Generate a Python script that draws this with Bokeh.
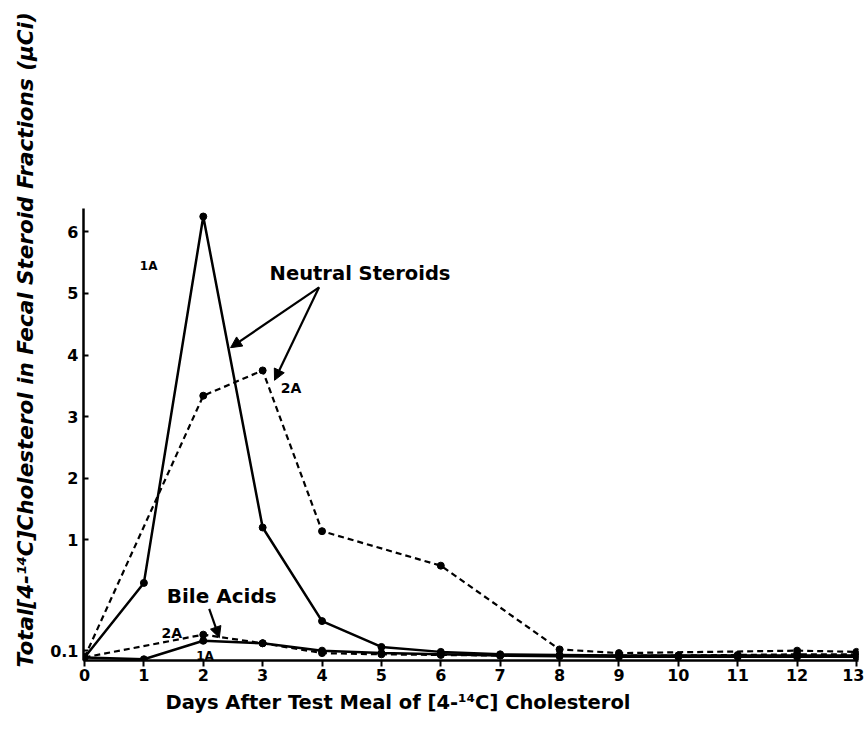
import math
from bokeh.plotting import figure
from bokeh.models import (ColumnDataSource, FixedTicker, CustomJSTickFormatter, Label,
                          Arrow, NormalHead, Range1d, CustomJSTransform, Title)
from bokeh.transform import transform
from bokeh.embed import file_html
from bokeh.resources import INLINE

# ---------------- data (µCi per day) ----------------
days = list(range(14))
neutral_1a = [0.045, 0.65, 6.25, 1.2, 0.34, 0.13, 0.09, 0.07, 0.065, 0.06, 0.06, 0.06, 0.06, 0.06]
neutral_2a_days = [0, 2, 3, 4, 6, 8, 9, 12, 13]
neutral_2a = [0.045, 3.34, 3.75, 1.14, 0.79, 0.11, 0.08, 0.10, 0.09]
bile_1a = [0.045, 0.03, 0.18, 0.16, 0.10, 0.08, 0.07, 0.06, 0.055, 0.05, 0.05, 0.05, 0.05, 0.05]
bile_2a_days = [0, 2, 3, 4, 5, 6, 7, 8, 9, 10, 11, 12, 13]
bile_2a = [0.045, 0.23, 0.16, 0.08, 0.07, 0.065, 0.06, 0.06, 0.06, 0.06, 0.065, 0.07, 0.07]

x_ticks = list(range(14))
y_tick_values = [0.1, 1, 2, 3, 4, 5, 6]

FONT = "DejaVu Sans"


def brk(v):
    # broken axis: 0-1 drawn at double scale, above 1 at unit scale
    return 2 * v if v <= 1 else v + 1


brk_js = CustomJSTransform(v_func="return xs.map(v => v <= 1 ? 2*v : v + 1)")

p = figure(width=864, height=730, x_range=Range1d(-0.017, 13.034), y_range=Range1d(0.04, 7.38),
           output_backend="svg", toolbar_location=None,
           min_border_left=83, min_border_right=6, min_border_top=208, min_border_bottom=70)
p.outline_line_color = None
p.xgrid.visible = False
p.ygrid.visible = False
p.background_fill_color = "white"

# axes
p.xaxis.ticker = FixedTicker(ticks=x_ticks)
p.yaxis.ticker = FixedTicker(ticks=[brk(v) for v in y_tick_values])
p.yaxis.formatter = CustomJSTickFormatter(code="""
const v = tick <= 2 ? tick / 2 : tick - 1;
return v < 1 ? v.toFixed(1) : v.toFixed(0);
""")
for ax in (p.xaxis, p.yaxis):
    ax.axis_line_width = 2.5
    ax.axis_line_color = "black"
    ax.major_tick_line_width = 2
    ax.major_tick_line_color = "black"
    ax.minor_tick_line_color = None
    ax.major_label_text_font = FONT
    ax.major_label_text_font_style = "bold"
    ax.major_label_text_font_size = "16px"
    ax.major_label_text_color = "black"
p.xaxis.major_tick_out = 6
p.xaxis.major_tick_in = 0
p.xaxis.major_label_standoff = 2
p.yaxis.major_tick_out = 0
p.yaxis.major_tick_in = 5
p.yaxis.major_label_standoff = 5

src_n1 = ColumnDataSource(dict(day=days, v=neutral_1a))
src_n2 = ColumnDataSource(dict(day=neutral_2a_days, v=neutral_2a))
src_b1 = ColumnDataSource(dict(day=days, v=bile_1a))
src_b2 = ColumnDataSource(dict(day=bile_2a_days, v=bile_2a))

yt = transform("v", brk_js)
p.line("day", yt, source=src_b1, line_color="black", line_width=2.5)
p.line("day", yt, source=src_n1, line_color="black", line_width=2.5)
p.line("day", yt, source=src_b2, line_color="black", line_width=2.2, line_dash="6 4")
p.line("day", yt, source=src_n2, line_color="black", line_width=2.2, line_dash="6 4")
for s in (src_b1, src_n1, src_b2, src_n2):
    p.scatter("day", yt, source=s, size=7, color="black")

# annotations
def lab(text, x, v, size, style="bold", angle=0.0):
    p.add_layout(Label(x=x, y=brk(v), text=text, text_font=FONT, text_font_style=style,
                       text_font_size=size, text_align="center", text_baseline="middle",
                       angle=angle, text_color="black"))

lab("1A", 1.08, 5.45, "12px")
lab("Neutral Steroids", 4.64, 5.32, "19.5px")
lab("2A", 3.48, 3.46, "14px")
lab("Bile Acids", 2.31, 0.54, "20px")
lab("2A", 1.47, 0.24, "14px")
lab("1A", 2.03, 0.06, "12px")

head = dict(size=11, fill_color="black", line_color="black")
p.add_layout(Arrow(end=NormalHead(**head), x_start=3.95, y_start=brk(5.10), x_end=2.46, y_end=brk(4.12),
                   line_width=2.2, line_color="black"))
p.add_layout(Arrow(end=NormalHead(**head), x_start=3.95, y_start=brk(5.10), x_end=3.20, y_end=brk(3.59),
                   line_width=2.2, line_color="black"))
p.add_layout(Arrow(end=NormalHead(**head), x_start=2.10, y_start=brk(0.44), x_end=2.27, y_end=brk(0.205),
                   line_width=2.2, line_color="black"))

# axis titles
p.add_layout(Title(text="Days After Test Meal of [4-\u00b9\u2074C] Cholesterol",
                   align="left", offset=82, standoff=10,
                   text_font=FONT, text_font_style="bold", text_font_size="19.5px",
                   text_color="black"), "below")
p.add_layout(Title(text="Total[4-\u00b9\u2074C]Cholesterol  in Fecal Steroid Fractions (\u03bcCi)",
                   align="left", offset=-7, standoff=20,
                   text_font=FONT, text_font_style="bold italic", text_font_size="21.5px",
                   text_color="black"), "left")

open("out.html", "w").write(file_html(p, INLINE))
